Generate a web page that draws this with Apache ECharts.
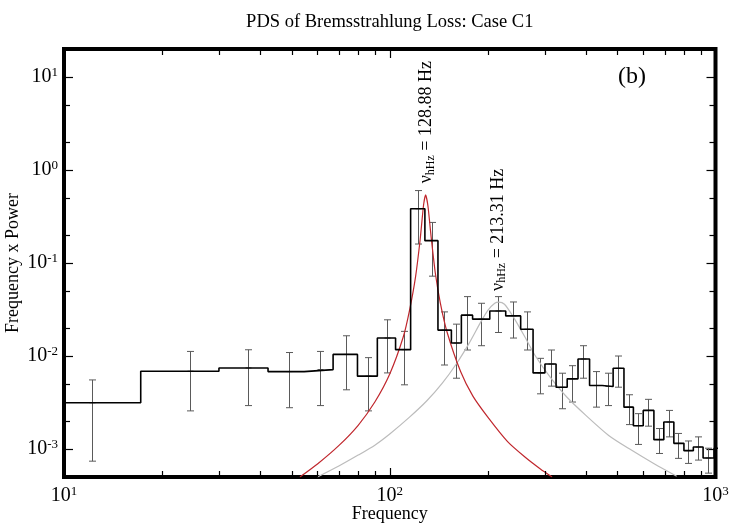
<!DOCTYPE html>
<html>
<head>
<meta charset="utf-8">
<title>PDS of Bremsstrahlung Loss: Case C1</title>
<script src="https://cdn.jsdelivr.net/npm/echarts@6.0.0/dist/echarts.min.js"></script>
<style>
	html, body { margin: 0; padding: 0; background: #fff; }
	#chart { width: 750px; height: 525px; }
</style>
</head>
<body>
<div id="chart"></div>
<script>
'use strict';

// histogram bins (Hz) and frequency x power per bin
var binEdges = [10, 17.2, 29.9, 42.3, 54.6, 67, 79.6, 91.6, 104.2, 115.9, 128.2, 140.6, 154.6, 165.9, 179.6, 202.8, 227, 252.3, 275.4, 299.5, 324, 350.5, 378.4, 410.6, 448.6, 485, 523.6, 559.7, 600, 647, 694, 745, 800, 855, 916, 990, 1060];
var binPower = [0.00314, 0.00686, 0.00744, 0.0068, 0.00714, 0.0104, 0.00607, 0.0156, 0.0117, 0.383, 0.174, 0.019, 0.0138, 0.0275, 0.0249, 0.0305, 0.027, 0.0194, 0.00658, 0.0082, 0.00462, 0.00568, 0.00929, 0.00482, 0.0047, 0.00738, 0.00282, 0.00178, 0.0026, 0.00126, 0.00195, 0.00115, 0.00096, 0.00105, 0.0008, 0.00102];

// error bars
var errFreq = [12.2, 24.4, 36.6, 49, 61.1, 73.6, 85.5, 97.9, 110.4, 122.4, 134.5, 146.9, 159.8, 172.3, 190.1, 214.9, 239.3, 263.3, 289, 312, 338.3, 363, 391.7, 430.5, 467.6, 501, 542, 578, 620, 670, 719, 766, 822, 883, 948];
var errLow = [0.00074, 0.00257, 0.00293, 0.00278, 0.00293, 0.00433, 0.00257, 0.00658, 0.0049, 0.160, 0.0722, 0.008, 0.00577, 0.0116, 0.0129, 0.0179, 0.0156, 0.0116, 0.00392, 0.00474, 0.00271, 0.0032, 0.00577, 0.00282, 0.00293, 0.00462, 0.00183, 0.00112, 0.00176, 0.000895, 0.00135, 0.000793, 0.0007, 0.00076, 0.00055];
var errHigh = [0.00553, 0.0112, 0.01167, 0.0109, 0.0112, 0.0165, 0.0096, 0.0245, 0.0184, 0.601, 0.273, 0.0298, 0.022, 0.0435, 0.0369, 0.0435, 0.0381, 0.0298, 0.00944, 0.0116, 0.00653, 0.00787, 0.0129, 0.0068, 0.00653, 0.01, 0.00383, 0.0024, 0.00342, 0.00166, 0.0026, 0.00147, 0.00122, 0.00135, 0.00102];

// lorentzian fits
var redFreq = [53, 60, 70, 80, 90, 100, 110, 115, 120, 124, 127, 128.88, 131, 134, 138, 143, 150, 165, 180, 200, 230, 260, 290, 315];
var redPower = [0.0005, 0.00069, 0.0011, 0.0018, 0.0032, 0.0064, 0.016, 0.031, 0.071, 0.18, 0.42, 0.54, 0.41, 0.19, 0.078, 0.037, 0.018, 0.0068, 0.0037, 0.0022, 0.0012, 0.00082, 0.00061, 0.0005];
var grayFreq = [60, 70, 80, 90, 100, 115, 130, 145, 160, 175, 190, 200, 210, 216, 225, 240, 260, 280, 310, 350, 400, 470, 550, 650, 760];
var grayPower = [0.0005, 0.00066, 0.00086, 0.0011, 0.00145, 0.0022, 0.0033, 0.0051, 0.0082, 0.0136, 0.023, 0.031, 0.037, 0.038, 0.036, 0.026, 0.016, 0.010, 0.006, 0.0036, 0.0023, 0.0014, 0.00098, 0.00069, 0.00051];

var peakFreqs = [128.88, 213.31];
var peakTexts = [' = 128.88 Hz', ' = 213.31 Hz'];

// axes
var xRange = [10, 1000];
var yRange = [0.0005, 20];
var xMinorTicks = [20, 30, 40, 50, 60, 70, 80, 90, 200, 300, 400, 500, 600, 700, 800, 900];
var yMinorTicks = [0.002, 0.005, 0.02, 0.05, 0.2, 0.5, 2, 5];

var serif = '"Liberation Serif", "Times New Roman", serif';
var grid = { left: 64, right: 34.5, top: 49, bottom: 48 };

function stepData() {
	var pts = [];
	for (var i = 0; i < binPower.length; i++) {
		pts.push([binEdges[i], binPower[i]]);
	}
	pts.push([binEdges[binEdges.length - 1], binPower[binPower.length - 1]]);
	return pts;
}

function pairs(xs, ys) {
	var out = [];
	for (var i = 0; i < xs.length; i++) out.push([xs[i], ys[i]]);
	return out;
}

function errData() {
	var out = [];
	for (var i = 0; i < errFreq.length; i++) {
		out.push([errFreq[i], errLow[i], errHigh[i], binPower[i]]);
	}
	return out;
}

function powLabel(v) {
	var lg = Math.log10(v);
	var e = Math.round(lg);
	if (Math.abs(lg - e) > 1e-6) return '';
	return '{b|10}{s|' + (e < 0 ? '-' + (-e) : e) + '}';
}

var labelRich = {
	b: { fontFamily: serif, fontSize: 20, color: '#000', lineHeight: 22 },
	s: { fontFamily: serif, fontSize: 13, color: '#000', lineHeight: 13, verticalAlign: 'top' }
};

function renderErr(params, api) {
	var f = api.value(0);
	var pLo = api.coord([f, api.value(1)]);
	var pHi = api.coord([f, api.value(2)]);
	var pV = api.coord([f, api.value(3)]);
	var x = Math.round(pLo[0]) + 0.5;
	var cap = 3.5;
	var st = { stroke: '#5a5a5a', lineWidth: 1 };
	return {
		type: 'group',
		children: [
			{ type: 'line', shape: { x1: x, y1: pLo[1], x2: x, y2: pHi[1] }, style: st },
			{ type: 'line', shape: { x1: x - cap, y1: pLo[1], x2: x + cap, y2: pLo[1] }, style: st },
			{ type: 'line', shape: { x1: x - cap, y1: pHi[1], x2: x + cap, y2: pHi[1] }, style: st },
			{ type: 'line', shape: { x1: x - 3, y1: pV[1], x2: x + 3, y2: pV[1] }, style: st }
		]
	};
}

function renderXMinor(params, api) {
	var f = api.value(0);
	var pb = api.coord([f, yRange[0]]);
	var pt = api.coord([f, yRange[1]]);
	var x = Math.round(pb[0]) + 0.5;
	var st = { stroke: '#000', lineWidth: 1.2 };
	return {
		type: 'group',
		children: [
			{ type: 'line', shape: { x1: x, y1: pb[1], x2: x, y2: pb[1] - 6 }, style: st },
			{ type: 'line', shape: { x1: x, y1: pt[1], x2: x, y2: pt[1] + 6 }, style: st }
		]
	};
}

function renderYMinor(params, api) {
	var v = api.value(1);
	var pl = api.coord([xRange[0], v]);
	var pr = api.coord([xRange[1], v]);
	var y = Math.round(pl[1]) + 0.5;
	var st = { stroke: '#000', lineWidth: 1.2 };
	return {
		type: 'group',
		children: [
			{ type: 'line', shape: { x1: pl[0], y1: y, x2: pl[0] + 6, y2: y }, style: st },
			{ type: 'line', shape: { x1: pr[0], y1: y, x2: pr[0] - 6, y2: y }, style: st }
		]
	};
}

// label anchors (value axis) just above the tallest point near each peak
var peakLabelBase = [0.72, 0.05];

function renderPeakLabel(params, api) {
	var i = params.dataIndex;
	var p = api.coord([api.value(0), peakLabelBase[i]]);
	return {
		type: 'text',
		x: p[0] + 1,
		y: p[1],
		rotation: Math.PI / 2,
		style: {
			text: '{v|\u03bd}{sub|hHz}{n|' + peakTexts[i] + '}',
			align: 'left',
			verticalAlign: 'middle',
			fill: '#000',
			rich: {
				v: { fontFamily: serif, fontSize: 18, fill: '#000', lineHeight: 20 },
				sub: { fontFamily: serif, fontSize: 12, fill: '#000', lineHeight: 12, verticalAlign: 'bottom' },
				n: { fontFamily: serif, fontSize: 18, fill: '#000', lineHeight: 20 }
			}
		}
	};
}

var chart = echarts.init(document.getElementById('chart'), null, { renderer: 'canvas' });

var plotMidX = grid.left + (750 - grid.left - grid.right) / 2;

var option = {
	animation: false,
	backgroundColor: '#fff',
	grid: {
		left: grid.left, right: grid.right, top: grid.top, bottom: grid.bottom,
		outerBoundsMode: 'none', containLabel: false,
		show: true, borderWidth: 4, borderColor: '#000', backgroundColor: 'transparent'
	},
	graphic: [
		{
			type: 'text', x: plotMidX, y: 22,
			style: { text: 'PDS of Bremsstrahlung Loss: Case C1', font: '18.5px ' + serif, fill: '#000', align: 'center', verticalAlign: 'middle' }
		},
		{
			type: 'text', x: 632, y: 77,
			style: { text: '(b)', font: '24px ' + serif, fill: '#000', align: 'center', verticalAlign: 'middle' }
		}
	],
	xAxis: [{
		type: 'log', logBase: 10, min: xRange[0], max: xRange[1], position: 'bottom',
		axisLine: { show: false },
		axisTick: { inside: true, length: 9, lineStyle: { color: '#000', width: 1.2 } },
		splitLine: { show: false },
		axisLabel: { formatter: powLabel, rich: labelRich, margin: 8, color: '#000' },
		name: 'Frequency', nameLocation: 'middle', nameGap: 28, nameMoveOverlap: false,
		nameTextStyle: { fontFamily: serif, fontSize: 18, color: '#000' }
	}, {
		type: 'log', logBase: 10, min: xRange[0], max: xRange[1], position: 'top',
		axisLine: { show: false },
		axisTick: { inside: true, length: 9, lineStyle: { color: '#000', width: 1.2 } },
		splitLine: { show: false },
		axisLabel: { show: false }
	}],
	yAxis: [{
		type: 'log', logBase: 10, min: yRange[0], max: yRange[1], position: 'left',
		axisLine: { show: false },
		axisTick: { inside: true, length: 9, lineStyle: { color: '#000', width: 1.2 } },
		splitLine: { show: false },
		axisLabel: { formatter: powLabel, rich: labelRich, margin: 6, color: '#000' },
		name: 'Frequency x Power', nameLocation: 'middle', nameGap: 42, nameRotate: 90, nameMoveOverlap: false,
		nameTextStyle: { fontFamily: serif, fontSize: 18, color: '#000' }
	}, {
		type: 'log', logBase: 10, min: yRange[0], max: yRange[1], position: 'right',
		axisLine: { show: false },
		axisTick: { inside: true, length: 9, lineStyle: { color: '#000', width: 1.2 } },
		splitLine: { show: false },
		axisLabel: { show: false }
	}],
	series: [
		{
			type: 'line', name: 'Lorentzian 1', data: pairs(grayFreq, grayPower),
			showSymbol: false, smooth: 0.25, clip: true,
			lineStyle: { color: '#bcbcbc', width: 1.2 }
		},
		{
			type: 'line', name: 'Lorentzian 2', data: pairs(redFreq, redPower),
			showSymbol: false, smooth: 0.2, clip: true,
			lineStyle: { color: '#c0272d', width: 1.2 }
		},
		{
			type: 'custom', name: 'errors', data: errData(), renderItem: renderErr,
			encode: { x: 0, y: [1, 2] }, clip: true, z: 3
		},
		{
			type: 'line', name: 'PDS', data: stepData(), step: 'end',
			showSymbol: false, clip: true, z: 4,
			lineStyle: { color: '#000', width: 1.6 }
		},
		{
			type: 'custom', name: 'xminor', renderItem: renderXMinor, silent: true,
			data: xMinorTicks.map(function(f) { return [f, yRange[0]]; }), z: 5
		},
		{
			type: 'custom', name: 'yminor', renderItem: renderYMinor, silent: true,
			data: yMinorTicks.map(function(v) { return [xRange[0], v]; }), z: 5
		},
		{
			type: 'custom', name: 'peaks', renderItem: renderPeakLabel, silent: true, clip: false,
			data: peakFreqs.map(function(f, i) { return [f, peakLabelBase[i]]; }), z: 6
		}
	]
};

chart.setOption(option);
</script>
</body>
</html>
